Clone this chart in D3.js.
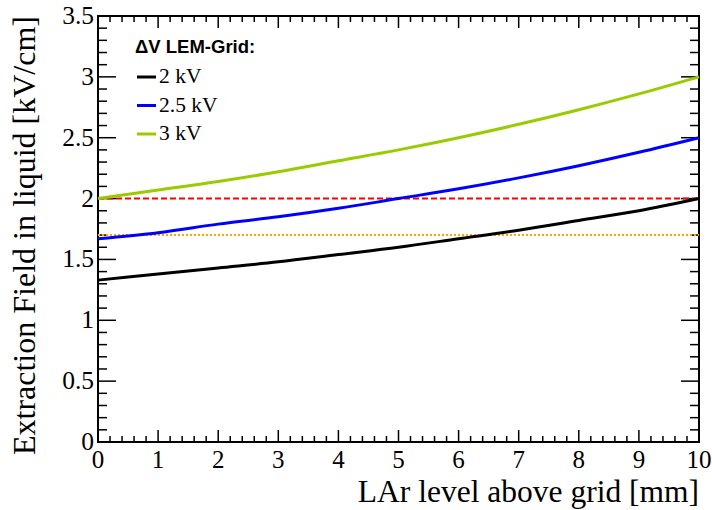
<!DOCTYPE html>
<html>
<head>
<meta charset="utf-8">
<script src="https://cdn.jsdelivr.net/npm/d3@7"></script>
<style>
  body { margin: 0; background: #fff; }
  svg { display: block; }
</style>
</head>
<body>
<div id="container"></div>
<script>
let w = 712;
let h = 510;
let m = {left: 98, right: 13, top: 16, bottom: 68};

// values
let levels = [0, 1, 2, 3, 4, 5, 6, 7, 8, 9, 10];
let field2kV  = [1.33, 1.38, 1.43, 1.48, 1.54, 1.60, 1.67, 1.74, 1.82, 1.90, 2.00];
let field25kV = [1.67, 1.72, 1.79, 1.85, 1.92, 2.00, 2.08, 2.17, 2.27, 2.38, 2.50];
let field3kV  = [2.00, 2.07, 2.14, 2.22, 2.31, 2.40, 2.50, 2.61, 2.73, 2.86, 3.00];
let seriesNames = ["2 kV", "2.5 kV", "3 kV"];
let seriesColors = ["#000000", "#0000ff", "#99cc00"];
let redLevel = 2.0;
let orangeLevel = 1.7;
let xTicks = [0, 1, 2, 3, 4, 5, 6, 7, 8, 9, 10];
let yTicks = [0, 0.5, 1, 1.5, 2, 2.5, 3, 3.5];

let viz = d3.select("#container")
  .append("svg")
    .attr("width", w)
    .attr("height", h);

let xScale = d3.scaleLinear().domain([0, 10]).range([m.left, w - m.right]);
let yScale = d3.scaleLinear().domain([0, 3.5]).range([h - m.bottom, m.top]);

let x0 = xScale(0), x1 = xScale(10), y0 = yScale(0), y1 = yScale(3.5);

// ticks (ROOT style, on all four sides)
let tickGroup = viz.append("g").attr("stroke", "#000").attr("stroke-width", 1.5);
let xMinor = d3.range(0, 10.001, 0.2);
xMinor.forEach(function(v){
  let major = Math.abs(v - Math.round(v)) < 1e-6;
  let len = major ? 12 : 6;
  tickGroup.append("line").attr("x1", xScale(v)).attr("x2", xScale(v)).attr("y1", y0).attr("y2", y0 - len);
  tickGroup.append("line").attr("x1", xScale(v)).attr("x2", xScale(v)).attr("y1", y1).attr("y2", y1 + len);
});
let yMinor = d3.range(0, 3.5001, 0.1);
yMinor.forEach(function(v){
  let major = Math.abs(v * 2 - Math.round(v * 2)) < 1e-6;
  let len = major ? 18 : 9;
  tickGroup.append("line").attr("y1", yScale(v)).attr("y2", yScale(v)).attr("x1", x0).attr("x2", x0 + len);
  tickGroup.append("line").attr("y1", yScale(v)).attr("y2", yScale(v)).attr("x1", x1).attr("x2", x1 - len);
});

// frame
viz.append("rect")
  .attr("x", x0).attr("y", y1)
  .attr("width", x1 - x0).attr("height", y0 - y1)
  .attr("fill", "none").attr("stroke", "#000").attr("stroke-width", 2);

// tick labels
let labelFont = "Liberation Serif, Times New Roman, serif";
viz.append("g").selectAll("text").data(xTicks).enter().append("text")
  .attr("x", d => xScale(d))
  .attr("y", y0 + 26)
  .attr("text-anchor", "middle")
  .attr("font-family", labelFont).attr("font-size", 25)
  .text(d => d);
viz.append("g").selectAll("text").data(yTicks).enter().append("text")
  .attr("x", x0 - 4)
  .attr("y", d => yScale(d) + 8)
  .attr("text-anchor", "end")
  .attr("font-family", labelFont).attr("font-size", 25.5)
  .text(d => d);

// axis titles
viz.append("text")
  .attr("x", x1).attr("y", 502)
  .attr("text-anchor", "end")
  .attr("font-family", labelFont).attr("font-size", 31.5)
  .text("LAr level above grid [mm]");
viz.append("text")
  .attr("transform", "translate(35," + y1 + ") rotate(-90)")
  .attr("text-anchor", "end")
  .attr("font-family", labelFont).attr("font-size", 32)
  .text("Extraction Field in liquid [kV/cm]");

// reference lines
let plotGroup = viz.append("g");
plotGroup.append("line")
  .attr("x1", x0).attr("x2", x1).attr("y1", yScale(redLevel)).attr("y2", yScale(redLevel))
  .attr("stroke", "#ff0000").attr("stroke-width", 2).attr("stroke-dasharray", "6,3");
plotGroup.append("line")
  .attr("x1", x0).attr("x2", x1).attr("y1", yScale(orangeLevel)).attr("y2", yScale(orangeLevel))
  .attr("stroke", "#ffa500").attr("stroke-width", 2).attr("stroke-dasharray", "2,2");

// curves
let allSeries = [field2kV, field25kV, field3kV];
let line = d3.line()
  .x((d, i) => xScale(levels[i]))
  .y(d => yScale(d))
  .curve(d3.curveMonotoneX);
plotGroup.selectAll(".curve").data(allSeries).enter().append("path")
  .classed("curve", true)
  .attr("d", line)
  .attr("fill", "none")
  .attr("stroke", (d, i) => seriesColors[i])
  .attr("stroke-width", 3);

// legend
let legend = viz.append("g");
legend.append("text")
  .attr("x", 135).attr("y", 53)
  .attr("font-family", "Liberation Sans, Arial, sans-serif")
  .attr("font-weight", "bold").attr("font-size", 18.5)
  .text("\u0394V LEM-Grid:");
seriesNames.forEach(function(name, i){
  let yy = 77 + i * 28.5;
  legend.append("line")
    .attr("x1", 137).attr("x2", 156).attr("y1", yy).attr("y2", yy)
    .attr("stroke", seriesColors[i]).attr("stroke-width", 3);
  legend.append("text")
    .attr("x", 159).attr("y", yy + 6)
    .attr("font-family", labelFont).attr("font-size", 21.5)
    .text(name);
});
</script>
</body>
</html>
